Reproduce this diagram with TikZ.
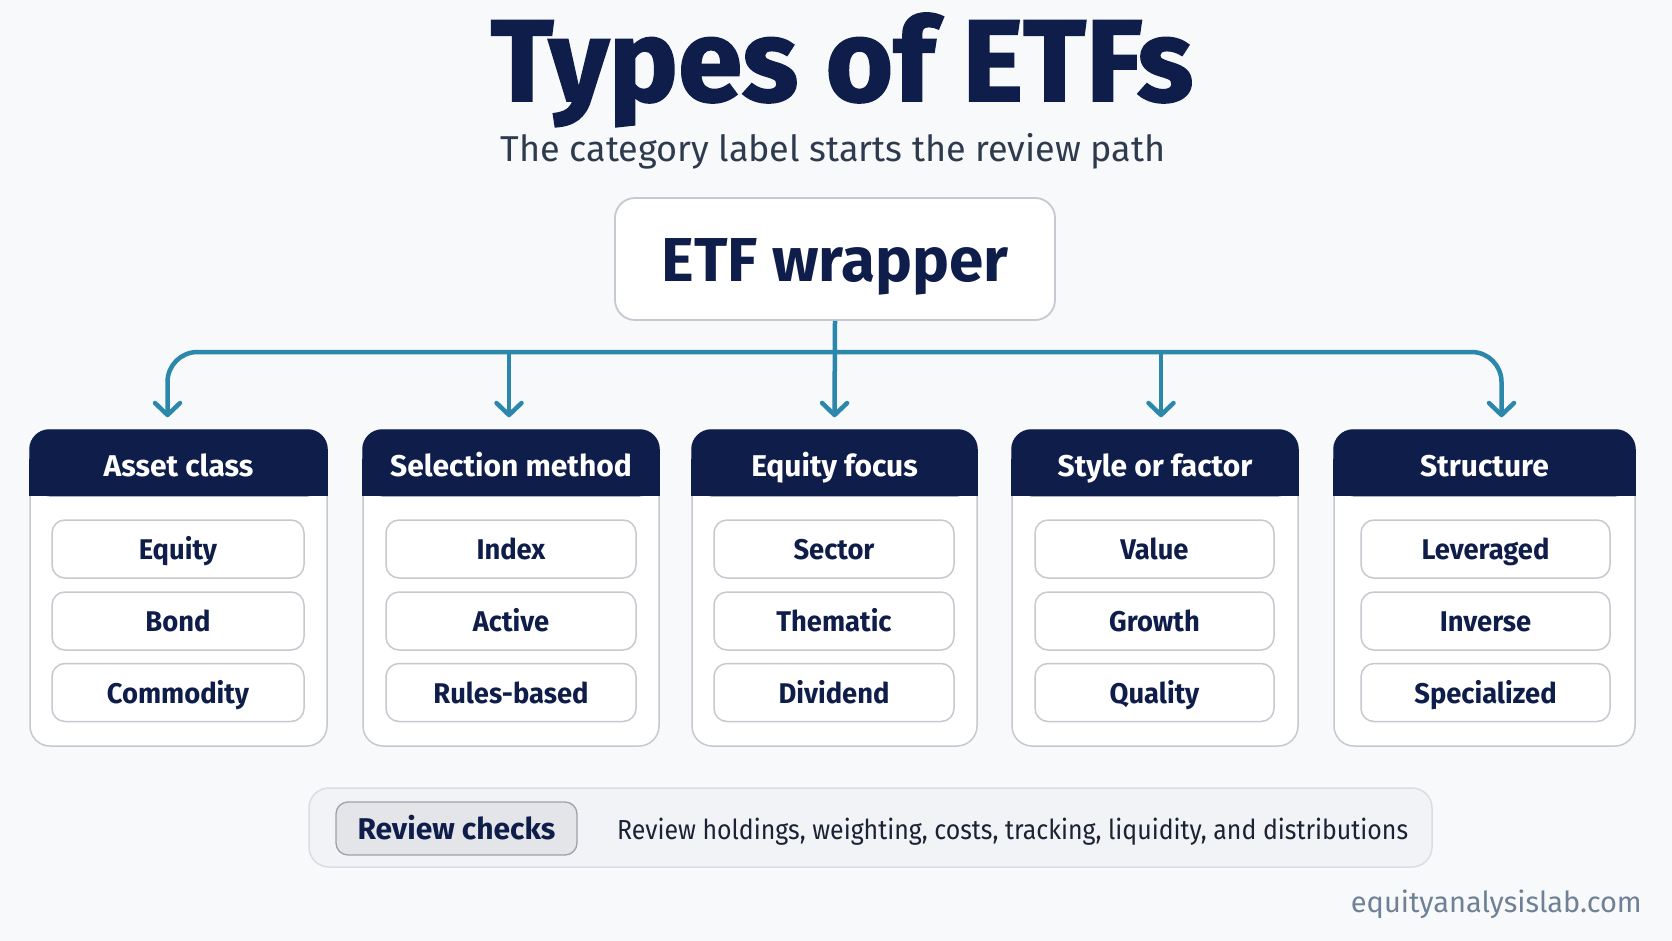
\documentclass[tikz,border=0pt]{standalone}
\usepackage{fontspec}
\setmainfont{Fira Sans}
\newfontfamily\heavyfont{Fira Sans}[BoldFeatures={FakeBold=1.5}]
\newfontfamily\itemfont{Fira Sans}[BoldFeatures={FakeStretch=0.96}]
\newfontfamily\narrowfont{Fira Sans}[FakeStretch=0.905]
\usepackage{tikz}
\usetikzlibrary{arrows.meta,positioning,calc}

\definecolor{pagebg}{HTML}{F8F9FA}
\definecolor{navy}{HTML}{0F1D4A}
\definecolor{subgray}{HTML}{2E3A4E}
\definecolor{linkblue}{HTML}{2B88AA}
\definecolor{boxline}{HTML}{C6C9CF}
\definecolor{barfill}{HTML}{F1F3F6}
\definecolor{barline}{HTML}{DADDE3}
\definecolor{btnfill}{HTML}{E3E5E9}
\definecolor{btnline}{HTML}{9DA1A8}
\definecolor{footgray}{HTML}{6F8097}
\definecolor{bodytext}{HTML}{1B2233}

\tikzset{
  catbox/.style={draw=boxline, line width=1.5pt, fill=white, rounded corners=20pt, inner sep=0pt},
  itembox/.style={draw=boxline, line width=1.5pt, fill=white, rounded corners=13pt, inner sep=0pt,
    minimum height=58pt, text height=21pt, text depth=0pt, text=navy,
    font=\itemfont\bfseries\fontsize{28.5}{32}\selectfont},
  headtext/.style={anchor=base, text=white, inner sep=0pt, font=\bfseries\fontsize{30}{34}\selectfont},
  link/.style={draw=linkblue, line width=4.5pt},
}

\begin{document}
\begin{tikzpicture}[x=1pt, y=-1pt, >={Straight Barb[length=12pt,width=25pt,round]}]
  % Page background
  \fill[pagebg] (0,0) rectangle (1672,941);
  \useasboundingbox (0,0) rectangle (1672,941);
  % Title and subtitle
  \node[anchor=base, inner sep=0pt, text=navy, font=\heavyfont\bfseries\fontsize{116}{120}\selectfont]
    (title) at (842,101) {Types of ETFs};
  \node[anchor=base, inner sep=0pt, text=subgray, font=\fontsize{36}{40}\selectfont]
    (subtitle) at (833,162) {The category label starts the review path};
  % Root box
  \node[draw=boxline, line width=1.8pt, fill=white, rounded corners=20pt, minimum width=440pt,
    minimum height=122pt, text height=44pt, text depth=0pt, text=navy,
    font=\bfseries\fontsize{62}{66}\selectfont] (wrap) at (835,259) {ETF wrapper};

  % Asset class column
  \node[catbox, minimum width=297pt, minimum height=316pt] (asset) at (178.5,588) {};
  \fill[navy, rounded corners=20pt] (asset.north west) rectangle ([yshift=-67pt]asset.north east);
  \fill[navy] ([yshift=-30pt]asset.north west) rectangle ([yshift=-67pt]asset.north east);
  \node[headtext] (assethd) at ([yshift=-47pt]asset.north) {Asset class};
  \node[itembox, minimum width=252pt] (equity) at (178,549) {Equity};
  \node[itembox, minimum width=252pt] (bond) at (178,621) {Bond};
  \node[itembox, minimum width=252pt] (commodity) at (178,692.5) {Commodity};

  % Selection method column
  \node[catbox, minimum width=296pt, minimum height=316pt] (selection) at (511,588) {};
  \fill[navy, rounded corners=20pt] (selection.north west) rectangle ([yshift=-67pt]selection.north east);
  \fill[navy] ([yshift=-30pt]selection.north west) rectangle ([yshift=-67pt]selection.north east);
  \node[headtext] (selectionhd) at ([yshift=-47pt]selection.north) {Selection method};
  \node[itembox, minimum width=250pt] (index) at (511,549) {Index};
  \node[itembox, minimum width=250pt] (active) at (511,621) {Active};
  \node[itembox, minimum width=250pt] (rules) at (511,692.5) {Rules-based};

  % Equity focus column
  \node[catbox, minimum width=285pt, minimum height=316pt] (focus) at (834.5,588) {};
  \fill[navy, rounded corners=20pt] (focus.north west) rectangle ([yshift=-67pt]focus.north east);
  \fill[navy] ([yshift=-30pt]focus.north west) rectangle ([yshift=-67pt]focus.north east);
  \node[headtext] (focushd) at ([yshift=-47pt]focus.north) {Equity focus};
  \node[itembox, minimum width=240pt] (sector) at (834,549) {Sector};
  \node[itembox, minimum width=240pt] (thematic) at (834,621) {Thematic};
  \node[itembox, minimum width=240pt] (dividend) at (834,692.5) {Dividend};

  % Style or factor column
  \node[catbox, minimum width=286pt, minimum height=316pt] (style) at (1155,588) {};
  \fill[navy, rounded corners=20pt] (style.north west) rectangle ([yshift=-67pt]style.north east);
  \fill[navy] ([yshift=-30pt]style.north west) rectangle ([yshift=-67pt]style.north east);
  \node[headtext] (stylehd) at ([yshift=-47pt]style.north) {Style or factor};
  \node[itembox, minimum width=239pt] (value) at (1154.5,549) {Value};
  \node[itembox, minimum width=239pt] (growth) at (1154.5,621) {Growth};
  \node[itembox, minimum width=239pt] (quality) at (1154.5,692.5) {Quality};

  % Structure column
  \node[catbox, minimum width=301pt, minimum height=316pt] (structure) at (1484.5,588) {};
  \fill[navy, rounded corners=20pt] (structure.north west) rectangle ([yshift=-67pt]structure.north east);
  \fill[navy] ([yshift=-30pt]structure.north west) rectangle ([yshift=-67pt]structure.north east);
  \node[headtext] (structurehd) at ([yshift=-47pt]structure.north) {Structure};
  \node[itembox, minimum width=249pt] (leveraged) at (1485.5,549) {Leveraged};
  \node[itembox, minimum width=249pt] (inverse) at (1485.5,621) {Inverse};
  \node[itembox, minimum width=249pt] (specialized) at (1485.5,692.5) {Specialized};

  % Branch connectors
  \coordinate (hub) at (835,352);
  \coordinate (tip1) at ([xshift=-11pt, yshift=12pt]asset.north);
  \coordinate (tip2) at ([xshift=-2pt, yshift=12pt]selection.north);
  \coordinate (tip3) at ([yshift=12pt]focus.north);
  \coordinate (tip4) at ([xshift=6pt, yshift=12pt]style.north);
  \coordinate (tip5) at ([xshift=17pt, yshift=12pt]structure.north);
  \draw[link, rounded corners=30pt, <->] (tip1) |- (hub) -| (tip5);
  \draw[link, ->] (wrap.south) -- (tip3);
  \draw[link, ->] (tip2 |- hub) -- (tip2);
  \draw[link, ->] (tip4 |- hub) -- (tip4);

  % Review bar
  \node[draw=barline, line width=1.5pt, fill=barfill, rounded corners=20pt, minimum width=1123pt,
    minimum height=79pt] (bar) at (870.5,827.5) {};
  \node[draw=btnline, line width=1.3pt, fill=btnfill, rounded corners=12pt, minimum width=241pt,
    minimum height=53pt, text height=22pt, text depth=0pt, text=navy,
    font=\bfseries\fontsize{30}{34}\selectfont] (checks) at (456.5,828.5) {Review checks};
  \node[anchor=base west, inner sep=0pt, text=bodytext, font=\narrowfont\fontsize{27.5}{32}\selectfont]
    (checktext) at (617,839) {Review holdings, weighting, costs, tracking, liquidity, and distributions};
  % Footer
  \node[anchor=base east, inner sep=0pt, text=footgray, font=\fontsize{29}{32}\selectfont]
    (footer) at (1642,912) {equityanalysislab.com};
\end{tikzpicture}
\end{document}
